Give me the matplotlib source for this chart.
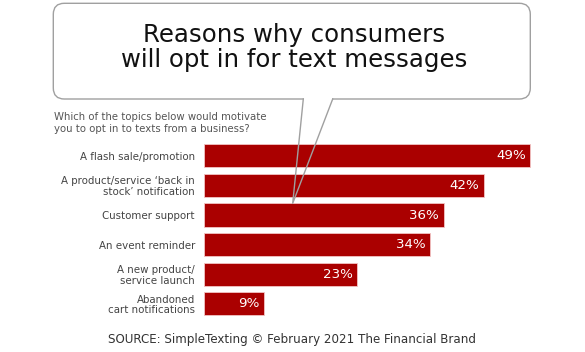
import numpy as np
import matplotlib.pyplot as plt
from matplotlib.patches import FancyBboxPatch

plt.rcParams['font.family'] = ['DejaVu Sans']

# Data
topics = ['A flash sale/promotion',
          'A product/service \u2018back in\nstock\u2019 notification',
          'Customer support',
          'An event reminder',
          'A new product/\nservice launch',
          'Abandoned\ncart notifications']
shares = [49, 42, 36, 34, 23, 9]

question = 'Which of the topics below would motivate\nyou to opt in to texts from a business?'
source = 'SOURCE: SimpleTexting \u00a9 February 2021 The Financial Brand'

W, H = 585, 352
fig = plt.figure(figsize=(W / 100, H / 100), dpi=100)

# bar axes placed in pixel terms
ax = fig.add_axes([204 / W, 1 - 318.6 / H, 373 / W, 177.6 / H])
y = np.arange(len(topics))
bars = ax.barh(y, shares, height=0.78, color='#aa0000', edgecolor='#f3c4c4', linewidth=0.6)
ax.set_xlim(0, 56)
ax.set_ylim(len(topics) - 0.5, -0.5)
ax.set_yticks(y)
ax.set_yticklabels(topics, fontsize=7.4, color='#444444', linespacing=1.05)
ax.tick_params(axis='y', length=0, pad=6.5)
ax.set_xticks([])
for s in ax.spines.values():
    s.set_visible(False)

for b, v in zip(bars, shares):
    ax.text(b.get_width() - 0.7, b.get_y() + b.get_height() / 2, f'{v}%',
            ha='right', va='center', color='white', fontsize=9.6)

# overlay in pixel coordinates for the speech bubble and texts
ov = fig.add_axes([0, 0, 1, 1], zorder=5)
ov.set_xlim(0, W)
ov.set_ylim(H, 0)
ov.axis('off')
ov.patch.set_alpha(0)

bubble = FancyBboxPatch((53.3, 3.3), 477, 95.7,
                        boxstyle='round,pad=0,rounding_size=11',
                        facecolor='white', edgecolor='#a0a0a0', linewidth=1.0)
ov.add_patch(bubble)
ov.plot([304, 332], [99, 99], color='white', linewidth=1.6, solid_capstyle='butt')
ov.plot([303.3, 292.7, 332.7], [99, 203.3, 99], color='#a0a0a0', linewidth=1.0)

ov.text(294, 42, 'Reasons why consumers', ha='center', va='baseline',
        fontsize=17.6, color='#111111')
ov.text(294, 67, 'will opt in for text messages', ha='center', va='baseline',
        fontsize=17.6, color='#111111')

ov.text(54, 123, question, ha='left', va='center', fontsize=7.3,
        color='#555555', linespacing=1.2)

ov.text(292.5, 339, source, ha='center', va='center', fontsize=8.6, color='#333333')

fig.savefig('out.png', dpi=100)
